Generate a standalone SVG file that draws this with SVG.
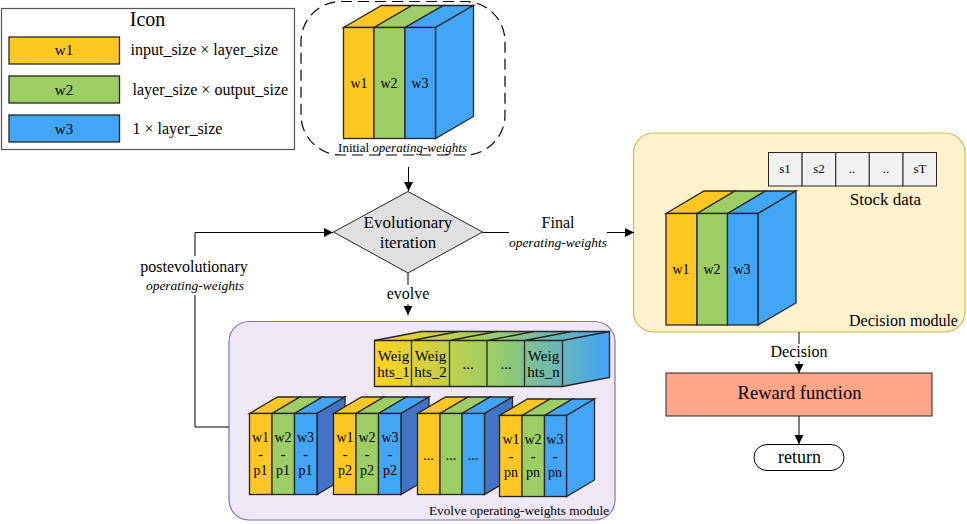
<svg xmlns="http://www.w3.org/2000/svg" width="967" height="524" viewBox="0 0 967 524">
<style>
text{font-family:"Liberation Serif","Times New Roman",serif;fill:#000;text-anchor:middle}
.t12{font-size:13px}.t13{font-size:14px}.t15{font-size:15px}.t16{font-size:16px}.t17{font-size:17px}.t18{font-size:18px}
.i{font-style:italic;font-size:13.5px}
.s{stroke:#262626;stroke-width:1.3;stroke-linejoin:miter}
.y{fill:#FFC722}.g{fill:#9DCD65}.b{fill:#42A5F5}.d{fill:#4472C4}
.c{fill:none;stroke:#000;stroke-width:1}
.st{text-anchor:start}
</style>
<defs>
<marker id="arr" markerUnits="userSpaceOnUse" markerWidth="10" markerHeight="10" refX="9" refY="5" orient="auto"><path d="M0,0.5 L9,5 L0,9.5 Z" fill="#000"/></marker>
<linearGradient id="wg" gradientUnits="userSpaceOnUse" x1="375" y1="0" x2="609" y2="0"><stop offset="0" stop-color="#FFD322"/><stop offset="0.5" stop-color="#9DCD65"/><stop offset="1" stop-color="#42A5F5"/></linearGradient>
</defs>

<g id="legend">
<rect x="1.500" y="8.500" width="293" height="141" fill="#fff" stroke="#555" stroke-width="1.200"/>
<text font-size="20" x="147.500" y="26">Icon</text>
<rect class="s y" x="9" y="37" width="110.500" height="27"/><text class="t15" x="64" y="55">w1</text>
<rect class="s g" x="9" y="76" width="110.500" height="27"/><text class="t15" x="64" y="95">w2</text>
<rect class="s b" x="9" y="115" width="110.500" height="27"/><text class="t15" x="64" y="134">w3</text>
<text class="t16 st" x="130.500" y="55">input_size × layer_size</text>
<text class="t16 st" x="132.500" y="95">layer_size × output_size</text>
<text class="t16 st" x="132.500" y="134">1 × layer_size</text>
</g>

<g id="initial-weights">
<rect x="301" y="1.500" width="204" height="153.500" rx="40" ry="40" fill="#fff" stroke="#000" stroke-width="1.200" stroke-dasharray="11 6"/>
<path class="s y" d="M343.500,27.500 L381.500,5.500 H412 L374,27.500 Z"/>
<path class="s g" d="M374,27.500 L412,5.500 H443.500 L405,27.500 Z"/>
<path class="s b" d="M405,27.500 L443.500,5.500 H473.500 L435.500,27.500 Z"/>
<path class="s b" d="M435.500,27.500 L473.500,5.500 V116.500 L435.500,138.500 Z"/>
<rect class="s y" x="343.500" y="27.500" width="30.500" height="111"/>
<rect class="s g" x="374" y="27.500" width="31" height="111"/>
<rect class="s b" x="405" y="27.500" width="30.500" height="111"/>
<text class="t13" x="359" y="88">w1</text><text class="t13" x="389" y="88">w2</text><text class="t13" x="420" y="88">w3</text>
<text class="t12" x="402.500" y="152">Initial <tspan font-style="italic">operating-weights</tspan></text>
</g>

<g id="evolutionary-iteration">
<path d="M333.500,232 L408,191.500 L482.500,232 L408,273 Z" fill="#E0E0E0" stroke="#262626" stroke-width="1"/>
<text class="t17" x="408" y="228">Evolutionary</text>
<text class="t17" x="408" y="248">iteration</text>
</g>

<g id="decision-module">
<rect x="633.500" y="133" width="331.500" height="199" rx="20" ry="20" fill="#FFF2CC" stroke="#D6B656" stroke-width="1.200"/>
<text class="t16" x="903.500" y="326">Decision module</text>
<path class="s y" d="M666,213.500 L704,191 H735 L697,213.500 Z"/>
<path class="s g" d="M697,213.500 L735,191 H765.500 L727.500,213.500 Z"/>
<path class="s b" d="M727.500,213.500 L765.500,191 H796 L758,213.500 Z"/>
<path class="s b" d="M758,213.500 L796,191 V303 L758,325 Z"/>
<rect class="s y" x="666" y="213.500" width="31" height="111.500"/>
<rect class="s g" x="697" y="213.500" width="30.500" height="111.500"/>
<rect class="s b" x="727.500" y="213.500" width="30.500" height="111.500"/>
<text class="t13" x="681" y="274">w1</text><text class="t13" x="712" y="274">w2</text><text class="t13" x="742" y="274">w3</text>
</g>

<g id="stock-data">
<g fill="#F2F2F2" stroke="#262626" stroke-width="1">
<rect x="768.500" y="152.500" width="33.600" height="33.500"/><rect x="802.100" y="152.500" width="33.700" height="33.500"/><rect x="835.800" y="152.500" width="33.500" height="33.500"/><rect x="869.300" y="152.500" width="33.700" height="33.500"/><rect x="903" y="152.500" width="33.500" height="33.500"/>
</g>
<text class="t12" x="785" y="173">s1</text><text class="t12" x="819" y="173">s2</text><text class="t12" x="852" y="173">..</text><text class="t12" x="886" y="173">..</text><text class="t12" x="920" y="173">sT</text>
<text class="t17" x="885.500" y="205">Stock data</text>
</g>

<g id="reward-function">
<rect x="666" y="373" width="266" height="43" fill="#FFA58A" stroke="#262626" stroke-width="1"/>
<text font-size="18.500" x="799.500" y="399">Reward function</text>
</g>

<g id="return">
<rect x="754" y="444.500" width="90" height="26" rx="13" ry="13" fill="#fff" stroke="#000" stroke-width="1"/>
<text class="t18" x="799.500" y="463">return</text>
</g>

<g id="evolve-module">
<rect x="229" y="321.500" width="386" height="198.500" rx="20" ry="20" fill="#EDE7F6" stroke="#8A6FA8" stroke-width="1.200"/>
<text font-size="13.300" x="519" y="515">Evolve operating-weights module</text>
</g>

<g id="weights-population">
<path class="s" fill="url(#wg)" d="M374.500,340.500 L421.500,331.500 H609.500 V377.500 L562.500,386.500 H374.500 Z"/>
<path class="s" fill="none" d="M374.500,340.500 H562.500 L609.500,331.500 M562.500,340.500 V386.500 M411.500,340.500 V386.500 M449.500,340.500 V386.500 M487,340.500 V386.500 M524.500,340.500 V386.500 M411.500,340.500 L458.500,331.500 M449.500,340.500 L496.500,331.500 M487,340.500 L534,331.500 M524.500,340.500 L571.500,331.500"/>
<text class="t15" x="393.500" y="361">Weig</text><text class="t15" x="393.500" y="377">hts_1</text>
<text class="t15" x="430.500" y="361">Weig</text><text class="t15" x="430.500" y="377">hts_2</text>
<text class="t15" x="468" y="369">...</text><text class="t15" x="506" y="369">...</text>
<text class="t15" x="543.500" y="361">Weig</text><text class="t15" x="543.500" y="377">hts_n</text>
</g>

<g id="population-1">
<path class="s y" d="M249.500,413.500 L277.500,397 H300 L272,413.500 Z"/>
<path class="s g" d="M272,413.500 L300,397 H322.500 L294.500,413.500 Z"/>
<path class="s b" d="M294.500,413.500 L322.500,397 H345 L317,413.500 Z"/>
<path class="s d" d="M317,413.500 L345,397 V478 L317,494.500 Z"/>
<rect class="s y" x="249.500" y="413.500" width="22.500" height="81"/>
<rect class="s g" x="272" y="413.500" width="22.500" height="81"/>
<rect class="s b" x="294.500" y="413.500" width="22.500" height="81"/>
<text class="t13" x="260.500" y="442">w1</text><text class="t13" x="283" y="442">w2</text><text class="t13" x="305.500" y="442">w3</text>
<text class="t13" x="260.500" y="459">-</text><text class="t13" x="283" y="459">-</text><text class="t13" x="305.500" y="459">-</text>
<text class="t13" x="260.500" y="475">p1</text><text class="t13" x="283" y="475">p1</text><text class="t13" x="305.500" y="475">p1</text>
</g>

<g id="population-2">
<path class="s y" d="M333.500,413.500 L361.500,397 H384 L356,413.500 Z"/>
<path class="s g" d="M356,413.500 L384,397 H406.500 L378.500,413.500 Z"/>
<path class="s b" d="M378.500,413.500 L406.500,397 H429 L401,413.500 Z"/>
<path class="s d" d="M401,413.500 L429,397 V478 L401,494.500 Z"/>
<rect class="s y" x="333.500" y="413.500" width="22.500" height="81"/>
<rect class="s g" x="356" y="413.500" width="22.500" height="81"/>
<rect class="s b" x="378.500" y="413.500" width="22.500" height="81"/>
<text class="t13" x="345" y="442">w1</text><text class="t13" x="367" y="442">w2</text><text class="t13" x="390" y="442">w3</text>
<text class="t13" x="345" y="459">-</text><text class="t13" x="367" y="459">-</text><text class="t13" x="390" y="459">-</text>
<text class="t13" x="345" y="475">p2</text><text class="t13" x="367" y="475">p2</text><text class="t13" x="390" y="475">p2</text>
</g>

<g id="population-3">
<path class="s y" d="M417.500,413.500 L445.500,397 H468 L440,413.500 Z"/>
<path class="s g" d="M440,413.500 L468,397 H490 L462,413.500 Z"/>
<path class="s b" d="M462,413.500 L490,397 H512.500 L484.500,413.500 Z"/>
<path class="s d" d="M484.500,413.500 L512.500,397 V478 L484.500,494.500 Z"/>
<rect class="s y" x="417.500" y="413.500" width="22.500" height="81"/>
<rect class="s g" x="440" y="413.500" width="22" height="81"/>
<rect class="s b" x="462" y="413.500" width="22.500" height="81"/>
<text class="t13" x="428.500" y="460">...</text><text class="t13" x="451" y="460">...</text><text class="t13" x="473" y="460">...</text>
</g>

<g id="population-n">
<path class="s y" d="M499.500,415.500 L527.500,399 H550 L522,415.500 Z"/>
<path class="s g" d="M522,415.500 L550,399 H572.500 L544.500,415.500 Z"/>
<path class="s b" d="M544.500,415.500 L572.500,399 H594.500 L566.500,415.500 Z"/>
<path class="s b" d="M566.500,415.500 L594.500,399 V480 L566.500,496.500 Z"/>
<rect class="s y" x="499.500" y="415.500" width="22.500" height="81"/>
<rect class="s g" x="522" y="415.500" width="22.500" height="81"/>
<rect class="s b" x="544.500" y="415.500" width="22" height="81"/>
<text class="t13" x="511" y="444">w1</text><text class="t13" x="533" y="444">w2</text><text class="t13" x="555" y="444">w3</text>
<text class="t13" x="511" y="461">-</text><text class="t13" x="533" y="461">-</text><text class="t13" x="555" y="461">-</text>
<text class="t13" x="511" y="477">pn</text><text class="t13" x="533" y="477">pn</text><text class="t13" x="555" y="477">pn</text>
</g>

<g id="connectors">
<path class="c" d="M408.500,167 V191" marker-end="url(#arr)"/>
<path class="c" d="M408,273 V285"/>
<path class="c" d="M408,304 V315" marker-end="url(#arr)"/>
<path class="c" d="M482.500,232.500 H509"/>
<path class="c" d="M607,232.500 H634" marker-end="url(#arr)"/>
<path class="c" d="M229,427 H195 V295"/>
<path class="c" d="M195,256 V232.500 H333" marker-end="url(#arr)"/>
<path class="c" d="M799,332 V344"/>
<path class="c" d="M799,361 V373" marker-end="url(#arr)"/>
<path class="c" d="M799,416 V444" marker-end="url(#arr)"/>
</g>

<g id="connector-labels">
<text class="t16" x="558" y="228">Final</text>
<text class="i" x="558" y="247">operating-weights</text>
<text class="t16" x="194" y="272">postevolutionary</text>
<text class="i" x="195" y="290">operating-weights</text>
<text class="t16" x="408" y="299">evolve</text>
<text class="t16" x="799" y="357">Decision</text>
</g>
</svg>
